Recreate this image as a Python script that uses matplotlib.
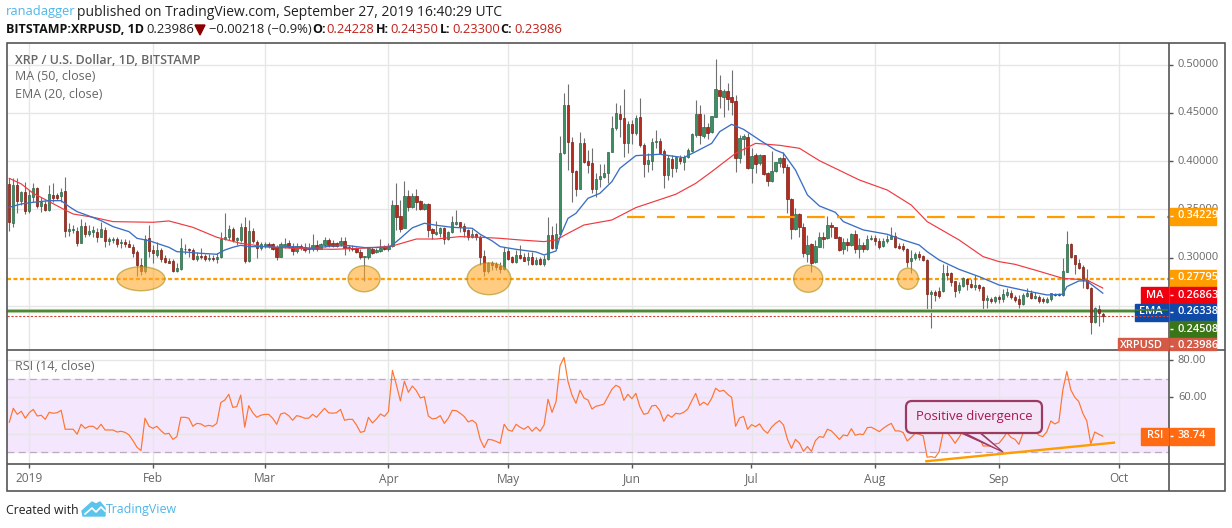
import numpy as np
import matplotlib
matplotlib.use("Agg")
import matplotlib.pyplot as plt
import matplotlib.dates as mdates
from matplotlib.patches import Ellipse, Rectangle, FancyBboxPatch, Polygon

plt.rcParams['font.family'] = ['Open Sans', 'DejaVu Sans']

# daily candles, first one is 2018-12-27
start_day = "2018-12-27"
opens = [
    .3760,.3363,.3753,.3591,.3677,.3488,.3632,.3719,.3539,.3557,
    .3494,.3653,.3650,.3639,.3688,.3281,.3287,.3281,.3156,.3325,
    .3243,.3270,.3270,.3218,.3287,.3177,.3184,.3194,.3149,.3160,
    .3139,.3115,.3056,.2925,.2867,.3201,.3080,.3029,.3080,.2994,
    .2970,.2970,.2867,.2884,.3094,.3087,.3080,.2991,.3022,.3018,
    .2984,.3001,.2984,.3005,.3191,.3218,.3294,.3184,.3184,.3315,
    .2970,.3277,.3163,.3098,.3125,.3146,.3139,.3108,.3011,.3125,
    .3149,.3115,.3067,.3125,.3115,.3098,.3087,.3129,.3094,.3132,
    .3184,.3149,.3149,.3143,.3174,.3098,.3105,.3098,.3063,.3008,
    .3005,.3091,.3056,.3074,.3108,.3087,.3122,.3543,.3432,.3312,
    .3639,.3529,.3639,.3588,.3501,.3553,.3294,.3250,.3260,.3308,
    .3191,.3263,.3350,.3367,.3329,.3287,.3218,.3243,.3218,.3018,
    .2863,.2943,.2932,.2915,.2880,.3070,.3008,.2960,.3029,.3005,
    .2977,.3005,.2936,.2987,.2936,.2984,.3232,.3105,.3243,.4081,
    .4578,.4195,.3895,.3715,.4184,.3998,.3977,.3715,.3812,.3840,
    .3874,.4098,.4340,.4485,.4443,.4184,.4381,.4295,.4454,.4164,
    .3974,.4005,.4202,.4205,.4102,.3860,.4022,.3933,.4033,.3995,
    .4040,.4109,.4271,.4485,.4260,.4350,.4305,.4461,.4733,.4668,
    .4723,.4661,.4619,.4036,.4233,.4247,.3929,.4060,.3984,.4060,
    .3874,.3798,.3895,.3977,.4029,.3943,.3612,.3294,.3453,.3322,
    .3043,.3139,.2960,.3115,.3212,.3201,.3339,.3315,.3215,.3091,
    .3163,.3136,.3250,.3094,.3129,.3091,.3191,.3205,.3177,.3118,
    .3170,.3198,.3225,.3122,.3118,.3091,.2967,.2994,.3039,.3015,
    .2981,.2625,.2646,.2660,.2660,.2839,.2839,.2756,.2663,.2711,
    .2784,.2729,.2694,.2718,.2698,.2563,.2573,.2556,.2594,.2570,
    .2615,.2632,.2594,.2570,.2522,.2608,.2636,.2587,.2594,.2570,
    .2546,.2570,.2625,.2625,.2615,.2856,.3139,.3025,.2942,.2901,
    .2770,.2684,.2339,.2466,.24228]
highs = [
    .3829,.3829,.3829,.3695,.3788,.3702,.3777,.3736,.3632,.3598,
    .3753,.3771,.3674,.3719,.3833,.3357,.3339,.3322,.3398,.3374,
    .3339,.3329,.3305,.3374,.3315,.3218,.3218,.3212,.3191,.3191,
    .3184,.3143,.3080,.2994,.3236,.3339,.3132,.3167,.3098,.3029,
    .2994,.2984,.2942,.3201,.3143,.3098,.3098,.3063,.3098,.3039,
    .3039,.3029,.3046,.3270,.3460,.3339,.3322,.3218,.3356,.3425,
    .3391,.3305,.3184,.3167,.3167,.3167,.3156,.3132,.3167,.3201,
    .3184,.3149,.3149,.3139,.3149,.3149,.3243,.3184,.3156,.3212,
    .3201,.3184,.3167,.3212,.3212,.3132,.3132,.3115,.3087,.3022,
    .3108,.3108,.3098,.3191,.3132,.3149,.3598,.3777,.3598,.3795,
    .3702,.3667,.3712,.3598,.3563,.3563,.3305,.3381,.3322,.3322,
    .3274,.3432,.3494,.3374,.3356,.3294,.3294,.3253,.3236,.3080,
    .2960,.2970,.2960,.2960,.3115,.3098,.3018,.3081,.3132,.3046,
    .3063,.3063,.3012,.3012,.3029,.3425,.3329,.3357,.4260,.4709,
    .4799,.4247,.3908,.4298,.4236,.4115,.4140,.3874,.3971,.3971,
    .4098,.4467,.4599,.4581,.4743,.4416,.4426,.4478,.4654,.4191,
    .4081,.4236,.4323,.4236,.4122,.4064,.4064,.4047,.4064,.4064,
    .4133,.4288,.4633,.4581,.4488,.4392,.4467,.5057,.4892,.4743,
    .4805,.4944,.4685,.4271,.4281,.4288,.4133,.4081,.4074,.4064,
    .3891,.4109,.3995,.4047,.4098,.3971,.3619,.3512,.3460,.3356,
    .3236,.3150,.3184,.3270,.3270,.3432,.3367,.3322,.3222,.3201,
    .3201,.3260,.3288,.3201,.3167,.3236,.3236,.3236,.3201,.3201,
    .3236,.3322,.3270,.3150,.3150,.3098,.3081,.3063,.3074,.3029,
    .2984,.2666,.2666,.2701,.2932,.2925,.2856,.2763,.2753,.2798,
    .2794,.2777,.2822,.2729,.2708,.2615,.2591,.2604,.2615,.2673,
    .2684,.2666,.2615,.2615,.2632,.2684,.2666,.2649,.2615,.2598,
    .2598,.2639,.2639,.2639,.3001,.3277,.3150,.3032,.2984,.2925,
    .2880,.2694,.2494,.2508,.2435]
lows = [
    .3281,.3322,.3460,.3546,.3453,.3460,.3581,.3512,.3477,.3488,
    .3488,.3581,.3598,.3581,.3218,.3229,.3253,.3122,.3149,.3212,
    .3225,.3212,.3167,.3212,.3115,.3132,.3149,.3115,.3098,.3108,
    .3108,.3005,.2815,.2822,.2839,.3011,.2942,.3011,.2960,.2942,
    .2942,.2856,.2856,.2873,.3039,.3011,.2977,.2970,.2984,.2970,
    .2970,.2970,.2942,.2994,.3184,.3184,.3167,.3132,.3167,.2949,
    .2960,.3149,.2994,.3080,.3098,.3098,.3080,.2977,.3005,.3098,
    .3098,.3029,.3053,.3080,.3063,.3046,.3074,.3074,.3087,.3115,
    .3115,.3108,.3115,.3122,.3029,.3074,.3074,.3046,.2984,.2763,
    .2984,.3039,.3046,.3063,.3080,.3074,.3115,.3287,.3270,.3305,
    .3488,.3512,.3494,.3494,.3494,.3218,.3191,.3236,.3218,.3143,
    .3184,.3253,.3339,.3270,.3212,.3184,.3201,.3184,.2925,.2811,
    .2846,.2873,.2873,.2846,.2873,.2977,.2949,.2949,.2984,.2963,
    .2925,.2925,.2925,.2925,.2915,.2977,.3087,.3087,.3236,.4074,
    .3908,.3581,.3639,.3708,.3977,.3874,.3674,.3632,.3736,.3822,
    .3771,.4091,.4323,.4254,.4047,.4081,.4178,.4271,.4150,.3839,
    .3891,.3908,.4133,.4081,.3726,.3805,.3839,.3891,.3971,.3908,
    .4029,.4098,.4254,.4178,.4236,.4226,.4295,.4454,.4547,.4461,
    .4530,.4478,.3891,.3977,.4064,.3915,.3777,.3874,.3960,.3857,
    .3746,.3788,.3891,.3943,.3881,.3460,.3194,.3287,.3218,.3012,
    .2960,.2856,.2949,.3108,.3098,.3194,.3219,.3201,.3074,.3039,
    .3074,.3125,.3046,.3001,.3063,.3081,.3184,.3132,.3091,.3108,
    .3156,.3191,.3098,.3087,.3074,.2908,.2839,.2977,.2977,.2970,
    .2442,.2270,.2553,.2580,.2649,.2770,.2708,.2598,.2632,.2701,
    .2667,.2684,.2667,.2660,.2466,.2477,.2535,.2529,.2529,.2546,
    .2598,.2570,.2546,.2484,.2511,.2598,.2570,.2570,.2535,.2529,
    .2535,.2556,.2604,.2604,.2608,.2849,.2994,.2832,.2880,.2684,
    .2673,.2211,.2328,.2294,.2330]
closes = [
    .3374,.3753,.3591,.3684,.3488,.3650,.3719,.3539,.3574,.3494,
    .3657,.3622,.3622,.3681,.3281,.3298,.3298,.3156,.3325,.3246,
    .3281,.3287,.3218,.3294,.3177,.3194,.3191,.3143,.3160,.3143,
    .3115,.3053,.2925,.2867,.3198,.3074,.3046,.3080,.2984,.2953,
    .2949,.2867,.2891,.3098,.3087,.3080,.2991,.3018,.3011,.2984,
    .2998,.2984,.3005,.3191,.3218,.3294,.3184,.3205,.3315,.2970,
    .3277,.3170,.3098,.3139,.3139,.3122,.3094,.3011,.3139,.3146,
    .3115,.3074,.3122,.3098,.3080,.3087,.3129,.3091,.3143,.3184,
    .3132,.3125,.3125,.3174,.3098,.3112,.3091,.3063,.3005,.3018,
    .3098,.3053,.3080,.3105,.3094,.3122,.3546,.3425,.3298,.3639,
    .3529,.3639,.3581,.3501,.3553,.3287,.3253,.3267,.3308,.3191,
    .3267,.3370,.3367,.3322,.3281,.3218,.3243,.3212,.3012,.2867,
    .2946,.2925,.2908,.2884,.3056,.2991,.2960,.3029,.3001,.2970,
    .3005,.2939,.2977,.2936,.2987,.3232,.3105,.3243,.4081,.4578,
    .4202,.3891,.3715,.4184,.3995,.3964,.3715,.3812,.3846,.3874,
    .4091,.4340,.4495,.4440,.4184,.4381,.4295,.4443,.4164,.3974,
    .4009,.4195,.4209,.4088,.3860,.4029,.3933,.4040,.4005,.4040,
    .4112,.4278,.4488,.4271,.4350,.4295,.4464,.4743,.4678,.4726,
    .4647,.4616,.4036,.4236,.4260,.3926,.4053,.3971,.4064,.3867,
    .3798,.3895,.3988,.4033,.3943,.3605,.3294,.3453,.3322,.3046,
    .3132,.2949,.3122,.3212,.3198,.3339,.3315,.3208,.3084,.3163,
    .3132,.3250,.3091,.3132,.3094,.3198,.3208,.3177,.3115,.3174,
    .3194,.3225,.3115,.3105,.3091,.2960,.2998,.3036,.3005,.2977,
    .2625,.2642,.2615,.2608,.2839,.2822,.2753,.2660,.2715,.2787,
    .2725,.2701,.2718,.2691,.2563,.2584,.2556,.2591,.2570,.2625,
    .2642,.2598,.2563,.2522,.2615,.2636,.2587,.2608,.2556,.2549,
    .2570,.2632,.2611,.2611,.2863,.3139,.3005,.2936,.2894,.2770,
    .2684,.2339,.2477,.2423,.23986]
rsi = [
    46.3,53.9,50.6,52.3,48.5,51.5,53.3,49.7,50.1,47.9,
    51.7,51.2,51.5,52.8,42.5,42.5,42.5,39.8,45.2,43.0,
    44.1,44.1,42.5,45.2,42.1,42.1,42.1,41.0,41.4,40.8,
    39.4,36.3,32.7,30.9,48.5,44.1,43.0,44.1,41.7,39.9,
    40.3,37.0,38.5,49.0,49.0,48.5,44.1,45.7,45.4,44.1,
    44.6,44.1,45.7,57.0,58.4,61.5,54.4,54.8,61.1,43.6,
    55.3,51.5,49.0,50.1,50.6,50.6,48.5,45.2,50.8,51.4,
    49.9,47.4,49.9,49.4,48.5,48.5,50.6,49.0,51.5,53.9,
    51.5,51.2,51.5,53.3,47.4,47.9,47.9,44.8,40.8,41.4,
    49.0,45.9,48.1,50.8,49.5,52.1,74.5,66.6,57.9,68.6,
    62.6,66.0,63.5,59.5,60.2,49.7,48.1,48.5,49.9,45.7,
    48.5,52.8,52.6,51.2,49.4,46.5,47.4,45.7,37.0,32.5,
    37.0,36.7,35.9,34.9,45.2,42.1,41.4,45.2,43.6,42.5,
    44.1,41.4,43.6,41.4,44.8,58.8,51.7,57.5,77.1,81.6,
    68.4,61.1,56.6,63.7,59.5,58.4,53.5,55.0,55.5,56.2,
    60.2,64.2,66.4,65.3,58.2,61.5,59.1,62.0,54.8,50.6,
    51.2,55.2,55.5,52.6,46.8,50.4,49.0,51.2,50.8,51.7,
    53.5,57.9,62.0,55.5,57.2,55.7,59.3,64.8,63.1,63.7,
    61.5,59.9,44.1,48.6,49.5,42.5,45.0,43.9,45.4,42.1,
    40.3,43.6,45.7,47.2,44.8,37.0,32.1,37.0,34.9,30.5,
    33.1,30.5,36.3,38.5,38.1,42.5,41.6,39.4,37.0,39.4,
    38.9,42.8,39.2,39.9,39.6,43.4,43.6,42.5,41.2,43.0,
    44.5,45.7,41.6,41.6,40.7,36.1,38.1,40.3,39.8,38.9,
    27.3,27.6,27.1,30.3,40.8,40.8,38.1,34.9,38.1,41.7,
    39.9,38.9,38.1,38.9,33.4,33.4,33.4,34.5,34.9,37.6,
    40.7,38.1,37.0,34.3,40.3,44.3,41.6,41.6,39.2,38.5,
    41.2,47.0,45.4,46.5,63.9,74.0,63.9,59.9,57.5,51.2,
    47.0,34.5,41.0,39.8,38.74]

ema_idx = [0,3,6,10,13,15,17,20,23,26,30,32,35,37,40,42,45,48,52,54,56,58,60,64,67,71,76,81,85,89,95,96,98,
           101,104,107,111,116,118,121,123,127,132,134,137,138,140,142,145,148,151,153,157,163,169,172,176,178,
           181,184,188,192,194,197,200,203,207,209,214,220,224,228,230,233,238,243,248,255,260,264,265,268,270,274]
ema_vals = [.3522,.3557,.3574,.3591,.3591,.3529,.3477,.3432,.3384,.3322,.3270,.3201,.3177,.3149,.3108,.3063,.3056,
            .3046,.3036,.3080,.3108,.3129,.3115,.3115,.3108,.3115,.3098,.3122,.3125,.3105,.3108,.3132,.3201,
            .3310,.3357,.3336,.3315,.3305,.3243,.3174,.3115,.3087,.3060,.3029,.3070,.3218,.3408,.3460,.3615,
            .3667,.3788,.3926,.4057,.4071,.4036,.4098,.4184,.4305,.4381,.4329,.4219,.4115,.4081,.3908,.3650,
            .3536,.3470,.3374,.3288,.3243,.3184,.3132,.3063,.2977,.2880,.2805,.2718,.2656,.2615,.2622,.2701,
            .2760,.2760,.26338]
ma_idx = [0,3,6,10,14,16,21,26,36,40,46,52,58,64,71,81,90,96,102,107,113,118,123,128,134,137,140,144,151,157,
          167,172,176,182,187,193,198,203,213,220,226,230,238,244,248,252,257,264,270,274]
ma_vals = [.3822,.3764,.3667,.3581,.3494,.3453,.3419,.3374,.3367,.3381,.3315,.3212,.3149,.3115,.3098,.3087,.3101,
           .3122,.3194,.3194,.3219,.3212,.3201,.3184,.3167,.3184,.3253,.3339,.3391,.3519,.3657,.3770,.3891,
           .4081,.4184,.4164,.4133,.4005,.3805,.3701,.3546,.3374,.3184,.3012,.2960,.2932,.2873,.2787,.2770,.26863]

month_days = ["2019-01-01","2019-02-01","2019-03-01","2019-04-01","2019-05-01","2019-06-01",
              "2019-07-01","2019-08-01","2019-09-01","2019-10-01"]
month_labels = ["2019","Feb","Mar","Apr","May","Jun","Jul","Aug","Sep","Oct"]
price_ticks = [0.50, 0.45, 0.40, 0.35, 0.30, 0.25]
price_tick_labels = ["0.50000", "0.45000", "0.40000", "0.35000", "0.30000"]
rsi_ticks = [80, 60, 40]

resistance = 0.34229
level_orange = 0.27795
level_green = 0.24508
last_close = 0.23986

# highlighted bounces on the 0.27795 line: candle number, width in days, height in price
ell_idx = [33, 88.9, 120.2, 200.2, 225.2]
ell_w = [12, 8, 11, 7.3, 5.2]
ell_h = [.0248, .027, .033, .028, .022]

GRID = "#e6e6e6"
FRAME = "#555555"
RED = "#b52b1e"
GREEN = "#3e8e64"

fig = plt.figure(figsize=(12.32, 5.28), dpi=100)
W, H = 1232., 528.

def pane(left, top, right, bottom):
    return fig.add_axes([left/W, 1-bottom/H, (right-left)/W, (bottom-top)/H])

ax = pane(6.5, 43, 1169, 350)
ax2 = pane(6.5, 350, 1169, 464)

first = mdates.datestr2num(start_day)
days = first + np.arange(len(closes))
months = [mdates.datestr2num(m) for m in month_days]
xlim = (months[0]-5.7, months[0]+285.6)

for a in (ax, ax2):
    a.set_xlim(*xlim)
    a.set_xticks(months)
    a.grid(True, color=GRID, lw=0.95)
    a.set_axisbelow(True)
    a.tick_params(left=False, labelleft=False, bottom=False, labelbottom=False)
    for s in a.spines.values():
        s.set_visible(False)

# price pane
ax.set_ylim(0.2045, 0.5223)
ax.set_yticks(price_ticks)

o, h, l, c = map(np.array, (opens, highs, lows, closes))
up = c >= o
ax.vlines(days, l, h, color="#707070", lw=0.8, zorder=2)
body = np.maximum(np.abs(c-o), 0.0006)
ax.bar(days[up], body[up], 0.6, bottom=o[up], color=GREEN, edgecolor="#2b6849", lw=0.5, zorder=3)
ax.bar(days[~up], body[~up], 0.6, bottom=c[~up], color=RED, edgecolor="#7a1f15", lw=0.5, zorder=3)

ax.plot(first+np.array(ma_idx), ma_vals, color="#f0393f", lw=0.85, zorder=4, solid_joinstyle="round")
ax.plot(first+np.array(ema_idx), ema_vals, color="#3a6fc4", lw=0.95, zorder=4, solid_joinstyle="round")

ax.hlines(resistance, first+154.7, xlim[1], color="#ff9c00", lw=1.6, linestyles=(0, (8, 5.5)), zorder=4)
ax.axhline(level_orange, color="#ff9c00", lw=1.6, ls=(0, (1.8, 1.1)), zorder=1.5)
ax.axhline(level_green, color="#a9c99a", lw=3.0, zorder=2.5)
ax.axhline(level_green, color="#3f7a22", lw=1.2, zorder=2.6)
ax.axhline(last_close, color="#d0453a", lw=0.8, ls=(0, (2, 1.5)), zorder=2.6)

for i, wd, ht in zip(ell_idx, ell_w, ell_h):
    ax.add_patch(Ellipse((first+i, level_orange+0.0003), wd, ht, facecolor="#ffa726", alpha=0.58,
                         edgecolor="#a88a10", lw=1.0, zorder=5))

# rsi pane
ax2.set_ylim(23.6, 85.6)
ax2.set_yticks(rsi_ticks)
ax2.axhspan(30, 70, color="#f4e6fc", zorder=0)
for lev in (70, 30):
    ax2.axhline(lev, color="#b9acbd", lw=0.9, ls=(0, (5.5, 3.5)), zorder=1)
ax2.plot(days, rsi, color="#ff7430", lw=0.85, zorder=3, solid_joinstyle="round")
ax2.plot([first+229.8, first+276.8], [25.1, 35.2], color="#ff9c00", lw=1.7, zorder=4)

# everything around the panes is laid out in figure pixels
ov = fig.add_axes([0, 0, 1, 1], zorder=10)
ov.set_xlim(0, W)
ov.set_ylim(H, 0)
ov.axis("off")
ov.patch.set_alpha(0)

def hline(y, x0, x1, **kw):
    ov.plot([x0, x1], [y, y], solid_capstyle="butt", **kw)

def vline(x, y0, y1, **kw):
    ov.plot([x, x], [y0, y1], solid_capstyle="butt", **kw)

# frame
ov.add_patch(Rectangle((6.5, 43), 1218.5, 448, fill=False, edgecolor=FRAME, lw=1.2))
hline(350, 6.5, 1225, color=FRAME, lw=1.2)
hline(464, 6.5, 1225, color=FRAME, lw=1.2)
vline(1169, 43, 491, color=FRAME, lw=1.2)

def ypx(v):
    return 64.5 + (0.50-v)*966

def rpx(v):
    return 360.3 + (80-v)*1.84

for t, s in zip(price_ticks, price_tick_labels):
    y = ypx(t)
    hline(y, 1169, 1173, color=FRAME, lw=1)
    ov.text(1178, y, s, fontsize=8, color="#666666", va="center")
for t in rsi_ticks:
    hline(rpx(t), 1169, 1173, color=FRAME, lw=1)
    ov.text(1178, rpx(t), "%.2f" % t, fontsize=8, color="#666666", va="center")

for m, s in zip(months, month_labels):
    x = 29.3 + (m-months[0])*3.99
    vline(x, 464, 468, color=FRAME, lw=1)
    ov.text(x, 479, s, fontsize=8.6, color="#666666", ha="center", va="center")

def label(y, txt, color, tag=None, tag_left=None, clip=None, right=1216):
    r = Rectangle((1169.5, y-8.5), right-1169.5, 17, color=color, zorder=6)
    ov.add_patch(r)
    t = ov.text(1178, y, txt, color="white", fontsize=7.9, fontweight="semibold", va="center", zorder=7)
    hline(y, 1169.5, 1173, color="white", lw=1, zorder=7)
    if tag:
        r2 = Rectangle((tag_left, y-8.5), 1168-tag_left, 17, color=color, zorder=6)
        ov.add_patch(r2)
        t2 = ov.text(1163, y, tag, color="white", fontsize=7.9, fontweight="semibold", ha="right", va="center", zorder=7)
        if clip:
            r2.set_height(clip-(y-8.5))
            t2.set_clip_path(r2)
    if clip:
        r.set_height(clip-(y-8.5))
        t.set_clip_path(r)

label(216, "0.34229", "#ff9c00")
label(278, "0.27795", "#ff9c00")
label(295, "0.26863", "#f0000f", "MA", 1141)
label(312, "0.26338", "#0f4aa8", "EMA", 1135)
label(329, "0.24508", "#3a7518")
label(346, "0.23986", "#d55a46", "XRPUSD", 1118, clip=349.5)
label(436, "38.74", "#ff6a13", "RSI", 1141, right=1214)
hline(310.3, 1135, 1168, color="#3f7a22", lw=1.4, alpha=0.85, zorder=8)
hline(315.7, 1135, 1168, color="#d0453a", lw=0.8, ls=(0, (2, 1.5)), zorder=8)

# chart legends
ov.text(15, 60, "XRP / U.S. Dollar, 1D, BITSTAMP", fontsize=9, fontweight="semibold", color="#666666", va="center")
ov.text(15, 77, "MA (50, close)", fontsize=9, color="#666666", va="center")
ov.text(15, 94, "EMA (20, close)", fontsize=9, color="#666666", va="center")
ov.text(15, 367, "RSI (14, close)", fontsize=9, color="#666666", va="center")

# callout
ov.add_patch(Polygon([[961, 433], [981, 433], [1003, 452]], closed=True, facecolor="#9c3a63",
                     edgecolor="#9c3a63", lw=0.8, zorder=5))
ov.add_patch(Polygon([[966, 433], [979, 433], [999, 449.5]], closed=True, facecolor="#f3e4f8",
                     edgecolor="none", zorder=5))
ov.add_patch(FancyBboxPatch((911, 406), 126, 22, boxstyle="round,pad=5,rounding_size=6", facecolor="#f3e4f8",
                            edgecolor="#9c3a63", lw=1.6, zorder=6))
ov.text(974, 416.5, "Positive divergence", fontsize=9.4, color="#a8174c", ha="center", va="center", zorder=7)

# header lines
blue = "#4db6ea"
ov.text(6, 12, "ranadagger", fontsize=9.3, color=blue, va="center")
ov.text(77, 12, "published on TradingView.com, September 27, 2019 16:40:29 UTC", fontsize=10, color="#222222", va="center")
ov.text(6, 29.5, "BITSTAMP:XRPUSD, 1D", fontsize=9, fontweight="bold", color="#111111", va="center")
ov.text(146, 29.5, "0.23986", fontsize=9.4, color="#222222", va="center")
ov.add_patch(Polygon([[195, 25], [205, 25], [200, 35]], closed=True, color="#8b0000"))
ov.text(209, 29.5, "\u22120.00218 (\u22120.9%)", fontsize=9.4, color="#222222", va="center")
for x_key, key, x_val, val in [(312, "O:", 326, "0.24228"), (376, "H:", 390, "0.24350"),
                               (440, "L:", 452, "0.23300"), (500, "C:", 514, "0.23986")]:
    ov.text(x_key, 29.5, key, fontsize=9, fontweight="bold", color="#111111", va="center")
    ov.text(x_val, 29.5, val, fontsize=9.4, color="#c0201a", va="center")

# footer
ov.text(6, 510, "Created with", fontsize=8.8, color="#222222", va="center")
ov.add_patch(Polygon([[82, 511], [92, 502], [96, 504], [100, 502], [105, 508], [105, 516], [83, 516]],
                     closed=True, color="#5cc4ea"))
ov.plot([85, 92, 96, 101, 105], [514, 508, 512, 507, 511], color="white", lw=1.2)
ov.text(106, 510, "TradingView", fontsize=8.9, color=blue, va="center")

fig.savefig("out.png", dpi=100)
